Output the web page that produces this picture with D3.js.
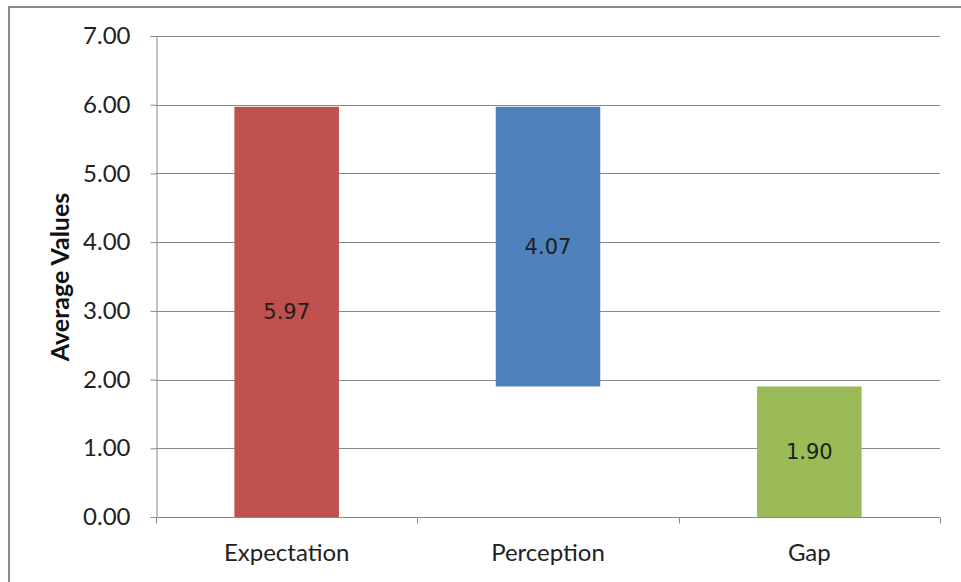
<!DOCTYPE html>
<html><head><meta charset="utf-8">
<script src="https://cdn.jsdelivr.net/npm/d3@7"></script>
<style>body{margin:0;background:#fff}svg{display:block}</style>
</head><body>
<svg id="chart" width="961" height="582"></svg>
<script>
const categories = ["Expectation", "Perception", "Gap"];
const barStart = [0, 1.90, 0];
const barEnd = [5.97, 5.97, 1.90];
const barLabels = ["5.97", "4.07", "1.90"];
const barColors = ["#c0504d", "#4f81bd", "#9bbb59"];
const yTicks = [0, 1, 2, 3, 4, 5, 6, 7];

const svg = d3.select("#chart");
const font = "Lato, 'Open Sans', sans-serif";
const m = {left: 156, right: 940, top: 36, bottom: 517};

// frame (top and left edges only visible)
svg.append("line").attr("x1", 8).attr("x2", 961).attr("y1", 7).attr("y2", 7)
  .attr("stroke", "#8c8c8c").attr("stroke-width", 2);
svg.append("line").attr("x1", 9).attr("x2", 9).attr("y1", 6).attr("y2", 582)
  .attr("stroke", "#8c8c8c").attr("stroke-width", 2);

const x = d3.scaleBand().domain(categories).range([m.left, m.right]).paddingInner(0.6).paddingOuter(0.3);
const xb = d3.scaleBand().domain(categories).range([m.left, m.right]);
const y = d3.scaleLinear().domain([0, 7]).range([m.bottom, m.top]);

// gridlines
svg.append("g").selectAll("line").data(yTicks.filter(d => d > 0)).join("line")
  .attr("x1", m.left).attr("x2", m.right)
  .attr("y1", d => Math.round(y(d)) + 0.5).attr("y2", d => Math.round(y(d)) + 0.5)
  .attr("stroke", "#8a8a8a").attr("stroke-width", 1);

// y axis
const yAxis = svg.append("g").attr("transform", `translate(${m.left + 0.5},0)`)
  .call(d3.axisLeft(y).tickValues(yTicks).tickFormat(d3.format(".2f")).tickSize(6).tickPadding(20));
yAxis.select(".domain").attr("stroke", "#8a8a8a");
yAxis.selectAll(".tick line").attr("stroke", "#8a8a8a");
yAxis.selectAll("text").attr("font-family", font).attr("font-size", 24).attr("fill", "#222");

// x axis
const xAxisG = svg.append("g").attr("transform", `translate(0,${m.bottom + 0.5})`);
xAxisG.append("line").attr("x1", m.left).attr("x2", m.right).attr("stroke", "#8a8a8a");
xAxisG.selectAll("line.t").data(categories.concat(["end"])).join("line").attr("class", "t")
  .attr("x1", (d, i) => Math.round(m.left + i * xb.bandwidth()) + 0.5)
  .attr("x2", (d, i) => Math.round(m.left + i * xb.bandwidth()) + 0.5)
  .attr("y1", 0).attr("y2", 6).attr("stroke", "#8a8a8a");
xAxisG.selectAll("text").data(categories).join("text")
  .attr("x", d => xb(d) + xb.bandwidth() / 2).attr("y", 43)
  .attr("text-anchor", "middle").attr("font-family", font).attr("font-size", 24).attr("fill", "#222")
  .text(d => d);

// bars
svg.append("g").selectAll("rect").data(categories).join("rect")
  .attr("x", d => x(d)).attr("width", x.bandwidth())
  .attr("y", (d, i) => y(barEnd[i])).attr("height", (d, i) => y(barStart[i]) - y(barEnd[i]))
  .attr("fill", (d, i) => barColors[i]);

// bar labels
svg.append("g").selectAll("text").data(categories).join("text")
  .attr("x", d => x(d) + x.bandwidth() / 2)
  .attr("y", (d, i) => y((barStart[i] + barEnd[i]) / 2))
  .attr("dy", "0.35em").attr("text-anchor", "middle")
  .attr("font-family", "'DejaVu Sans', sans-serif").attr("font-size", 21).attr("fill", "#1e1e1e")
  .text((d, i) => barLabels[i]);

// y title
svg.append("text").attr("transform", `translate(69,277) rotate(-90)`)
  .attr("text-anchor", "middle").attr("font-family", font).attr("font-weight", "bold")
  .attr("font-size", 25).attr("fill", "#111").text("Average Values");
</script>
</body></html>
